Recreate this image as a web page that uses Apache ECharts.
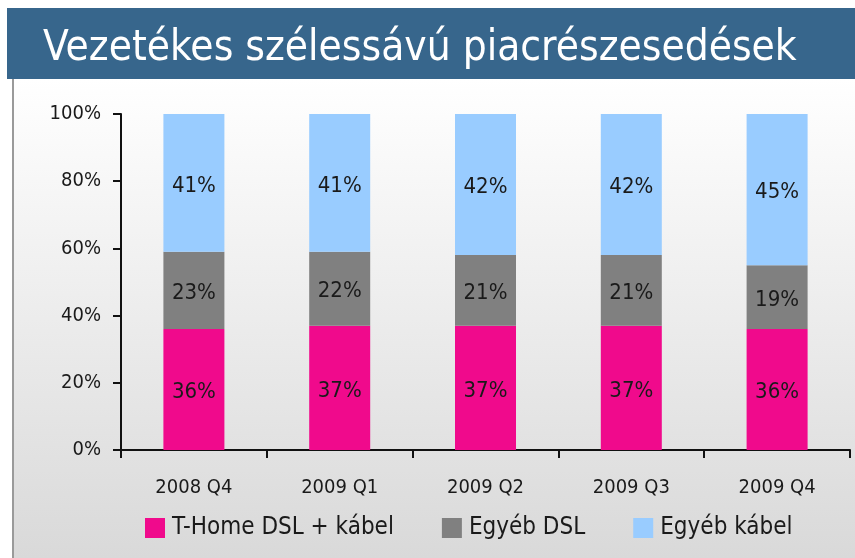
<!DOCTYPE html>
<html>
<head>
<meta charset="utf-8">
<script src="https://cdn.jsdelivr.net/npm/echarts@6/dist/echarts.min.js"></script>
<style>
	html, body { margin: 0; padding: 0; background: #fff; }
	#chart { width: 855px; height: 558px; }
</style>
</head>
<body>
<div id="chart"></div>
<script>
	// adatok
	var quarters = ['2008 Q4', '2009 Q1', '2009 Q2', '2009 Q3', '2009 Q4'];
	var thome = [36, 37, 37, 37, 36];
	var egyebDsl = [23, 22, 21, 21, 19];
	var egyebKabel = [41, 41, 42, 42, 45];
	var seriesNames = ['T-Home DSL + kábel', 'Egyéb DSL', 'Egyéb kábel'];

	var font = '"DejaVu Sans Condensed", "Liberation Sans", sans-serif';
	var myChart = echarts.init(document.getElementById('chart'));

	function barSeries(name, data, color) {
		return {
			name: name,
			type: 'bar',
			stack: 'total',
			barWidth: 61,
			data: data,
			itemStyle: { color: color },
			label: {
				show: true,
				position: 'inside',
				offset: [0, 3],
				formatter: '{c}%',
				color: '#1a1a1a',
				fontSize: 22,
				fontFamily: font
			}
		};
	}

	var option = {
		animation: false,
		textStyle: { fontFamily: font },
		graphic: [
			{
				type: 'rect', silent: true, z: -10,
				shape: { x: 13, y: 79, width: 842, height: 479 },
				style: {
					fill: new echarts.graphic.LinearGradient(0, 0, 0, 1, [
						{ offset: 0, color: '#ffffff' },
						{ offset: 1, color: '#d9d9d9' }
					])
				}
			},
			{
				type: 'line', silent: true,
				shape: { x1: 13, y1: 79, x2: 13, y2: 558 },
				style: { stroke: '#9a9a9a', lineWidth: 2 }
			},
			{
				type: 'rect', silent: true,
				shape: { x: 7, y: 8, width: 848, height: 71 },
				style: { fill: '#37668c' }
			},
			{
				type: 'text', silent: true,
				left: 43, top: 28,
				style: {
					text: 'Vezetékes szélessávú piacrészesedések',
					fill: '#ffffff',
					fontSize: 42,
					fontFamily: font
				}
			}
		],
		legend: {
			data: seriesNames,
			bottom: 13,
			left: 140,
			itemWidth: 20,
			itemHeight: 20,
			itemGap: 48,
			icon: 'rect',
			textStyle: { fontSize: 24, color: '#1a1a1a', fontFamily: font, padding: [0, 0, 0, 2] }
		},
		grid: { left: 121, right: 5, top: 114, bottom: 108 },
		xAxis: {
			type: 'category',
			data: quarters,
			axisLine: { lineStyle: { color: '#111', width: 2 } },
			axisTick: { show: true, length: 8, lineStyle: { color: '#111', width: 2 } },
			axisLabel: { fontSize: 20, color: '#1a1a1a', margin: 28, fontFamily: font }
		},
		yAxis: {
			type: 'value',
			min: 0,
			max: 100,
			interval: 20,
			axisLine: { show: true, lineStyle: { color: '#111', width: 2 } },
			axisTick: { show: true, length: 8, lineStyle: { color: '#111', width: 2 } },
			splitLine: { show: false },
			axisLabel: { formatter: '{value}%', fontSize: 20, color: '#1a1a1a', margin: 20, fontFamily: font }
		},
		series: [
			barSeries(seriesNames[0], thome, '#f00a8c'),
			barSeries(seriesNames[1], egyebDsl, '#808080'),
			barSeries(seriesNames[2], egyebKabel, '#99ccff')
		]
	};
	myChart.setOption(option);
</script>
</body>
</html>
